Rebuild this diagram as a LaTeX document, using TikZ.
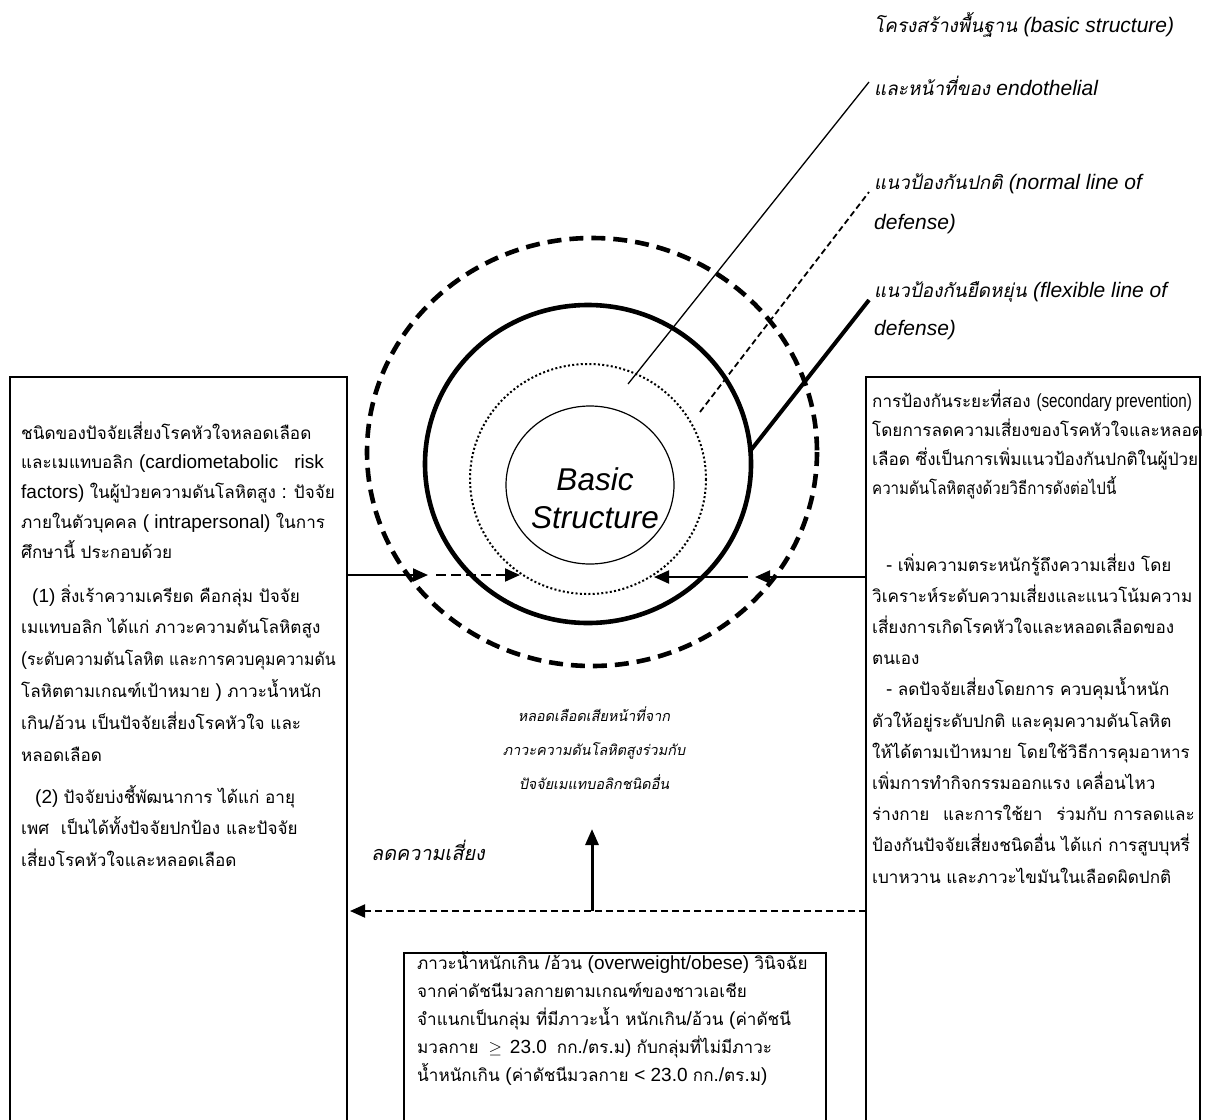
\documentclass[tikz,border=0pt]{standalone}
\usepackage{fontspec}
\usepackage{graphicx}
\usetikzlibrary{arrows.meta}
\setmainfont{Liberation Sans}
\newfontfamily\latinfam{Liberation Sans}
\newfontfamily\thaifont[Script=Thai,Scale=0.9,ItalicFont=Loma,ItalicFeatures={FakeSlant=0.2}]{Loma}
\XeTeXinterchartokenstate=1
\newXeTeXintercharclass\ThaiCls
\newcount\tmpcnt
\tmpcnt="0E01
\loop
  \XeTeXcharclass\tmpcnt=\ThaiCls
  \advance\tmpcnt by 1
\ifnum\tmpcnt<"0E5C \repeat
\XeTeXinterchartoks 0 \ThaiCls = {\thaifont}
\XeTeXinterchartoks 4095 \ThaiCls = {\thaifont}
\XeTeXinterchartoks \ThaiCls 0 = {\latinfam}
\XeTeXinterchartoks 4095 0 = {\latinfam}
\begin{document}
\begin{tikzpicture}[x=1pt,y=-1pt,
  boxline/.style={line width=2.4pt},
  body/.style={align=left, anchor=base west, inner sep=0pt},
  lbl/.style={font=\fontsize{21}{40}\selectfont\itshape, align=left, anchor=base west, inner sep=0pt},
  arr/.style={line width=2pt, -{Triangle[length=15pt,width=13pt]}},
  dasharr/.style={arr, dash pattern=on 10pt off 5pt},
  outerline/.style={line width=4.6pt, dash pattern=on 14pt off 8pt},
  flexline/.style={line width=4.6pt},
  normline/.style={line width=2pt, dash pattern=on 2pt off 2.3pt},
  coreline/.style={line width=1.2pt}]
\useasboundingbox (0,0) rectangle (1212,1119);
\fill[white] (0,0) rectangle (1212,1119);

% circles
\draw[outerline] (592,452) ellipse [x radius=225, y radius=214];
\draw[flexline] (588,464) ellipse [x radius=163, y radius=159];
\draw[normline] (588,479) ellipse [x radius=118, y radius=115];
\draw[coreline] (590,485) ellipse [x radius=84, y radius=79];
\node[font=\fontsize{31.5}{38}\selectfont\itshape, align=center, inner sep=0pt] (bs) at (595,498) {Basic\\Structure};

% boxes
\draw[boxline] (10,1125) -- (10,377) -- (347,377) -- (347,1125);
\draw[boxline] (866,1125) -- (866,377) -- (1200,377) -- (1200,1125);
\draw[boxline] (404,1125) -- (404,953) -- (826,953) -- (826,1125);

% labels top right
\node[lbl] (lblA1) at (874,32) {โครงสร้างพื้นฐาน (basic structure)};
\node[lbl] (lblA2) at (874,95) {และหน้าที่ของ endothelial};
\node[lbl] (lblB) at (874,229) {แนวป้องกันปกติ (normal line of\\defense)};
\node[lbl, font=\fontsize{21}{38}\selectfont\itshape] (lblC) at (874,335) {แนวป้องกันยืดหยุ่น (flexible line of\\defense)};

% pointer lines
\coordinate (pA1) at (869,82);  \coordinate (pA0) at (628,384);
\coordinate (pB1) at (869,192); \coordinate (pB0) at (700,412);
\coordinate (pC1) at (869,300); \coordinate (pC0) at (751,450);
\draw[line width=1.3pt] (pA0) -- (pA1);
\draw[line width=1.8pt, dash pattern=on 6pt off 3.5pt] (pB0) -- (pB1);
\draw[line width=4pt] (pC0) -- (pC1);

% left box text
\node[body, font=\fontsize{19}{29.75}\selectfont] (LA) at (21,558) {ชนิดของปัจจัยเสี่ยงโรคหัวใจหลอดเลือด\\และเมแทบอลิก (cardiometabolic\hspace{16pt}risk\\factors) ในผู้ป่วยความดันโลหิตสูง : ปัจจัย\\ภายในตัวบุคคล ( intrapersonal) ในการ\\ศึกษานี้ ประกอบด้วย};
\node[body, font=\fontsize{19}{31.8}\selectfont] (LB) at (21,761) {\hspace*{11pt}(1) สิ่งเร้าความเครียด คือกลุ่ม ปัจจัย\\เมแทบอลิก ได้แก่ ภาวะความดันโลหิตสูง\\\scalebox{0.93}[1]{(ระดับความดันโลหิต และการควบคุมความดัน}\\โลหิตตามเกณฑ์เป้าหมาย ) ภาวะน้ำหนัก\\เกิน/อ้วน เป็นปัจจัยเสี่ยงโรคหัวใจ และ\\หลอดเลือด};
\node[body, font=\fontsize{19}{31.5}\selectfont] (LC) at (21,866) {\hspace*{14pt}(2) ปัจจัยบ่งชี้พัฒนาการ ได้แก่ อายุ\\เพศ\hspace{6pt} เป็นได้ทั้งปัจจัยปกป้อง และปัจจัย\\เสี่ยงโรคหัวใจและหลอดเลือด};

% right box text
\node[body, font=\fontsize{19}{28.8}\selectfont] (RA) at (872,494) {การป้องกันระยะที่สอง \scalebox{0.8}[1]{(secondary prevention)}\\โดยการลดความเสี่ยงของโรคหัวใจและหลอด\\เลือด ซึ่งเป็นการเพิ่มแนวป้องกันปกติในผู้ป่วย\\\scalebox{0.88}[1]{ความดันโลหิตสูงด้วยวิธีการดังต่อไปนี้}};
\node[body, font=\fontsize{19}{31.2}\selectfont] (RB) at (872,883) {\hspace*{14pt}- เพิ่มความตระหนักรู้ถึงความเสี่ยง โดย\\วิเคราะห์ระดับความเสี่ยงและแนวโน้มความ\\เสี่ยงการเกิดโรคหัวใจและหลอดเลือดของ\\ตนเอง\\\hspace*{14pt}- ลดปัจจัยเสี่ยงโดยการ ควบคุมน้ำหนัก\\ตัวให้อยู่ระดับปกติ และคุมความดันโลหิต\\ให้ได้ตามเป้าหมาย โดยใช้วิธีการคุมอาหาร\\เพิ่มการทำกิจกรรมออกแรง เคลื่อนไหว\\ร่างกาย\hspace{8pt} และการใช้ยา\hspace{8pt} ร่วมกับ การลดและ\\ป้องกันปัจจัยเสี่ยงชนิดอื่น ได้แก่ การสูบบุหรี่\\เบาหวาน และภาวะไขมันในเลือดผิดปกติ};

% bottom box text
\node[body, font=\fontsize{19}{28}\selectfont] (BT) at (417,1081) {ภาวะน้ำหนักเกิน /อ้วน (overweight/obese) วินิจฉัย\\จากค่าดัชนีมวลกายตามเกณฑ์ของชาวเอเชีย\\จำแนกเป็นกลุ่ม ที่มีภาวะน้ำ หนักเกิน/อ้วน (ค่าดัชนี\\มวลกาย\hspace{10pt}$\geq$\hspace{8pt}23.0\hspace{10pt}กก./ตร.ม) กับกลุ่มที่ไม่มีภาวะ\\น้ำหนักเกิน (ค่าดัชนีมวลกาย < 23.0 กก./ตร.ม)};

% centre texts
\node[font=\fontsize{16}{34}\selectfont\itshape, align=center, anchor=base, inner sep=0pt] (ctext) at (594,789) {หลอดเลือดเสียหน้าที่จาก\\ภาวะความดันโลหิตสูงร่วมกับ\\ปัจจัยเมแทบอลิกชนิดอื่น};
\node[lbl, font=\fontsize{22}{26}\selectfont\itshape] (lred) at (371,860) {ลดความเสี่ยง};

% horizontal arrows
\coordinate (aL0) at (347,575); \coordinate (aL1) at (428,575);
\coordinate (aL2) at (436,575); \coordinate (aL3) at (520,575);
\coordinate (aR0) at (866,577); \coordinate (aR1) at (755,577);
\coordinate (aR2) at (748,577); \coordinate (aR3) at (654,577);
\draw[arr] (aL0) -- (aL1);
\draw[dasharr] (aL2) -- (aL3);
\draw[arr] (aR0) -- (aR1);
\draw[arr] (aR2) -- (aR3);

% feedback arrows
\coordinate (dR) at (866,911); \coordinate (dL) at (350,911);
\coordinate (up0) at (592,911); \coordinate (up1) at (592,829);
\draw[line width=2pt, dash pattern=on 7.5pt off 3.5pt, -{Triangle[length=15pt,width=13pt]}] (dR) -- (dL);
\draw[line width=3pt, -{Triangle[length=16pt,width=13pt]}] (up0) -- (up1);
\end{tikzpicture}
\end{document}
